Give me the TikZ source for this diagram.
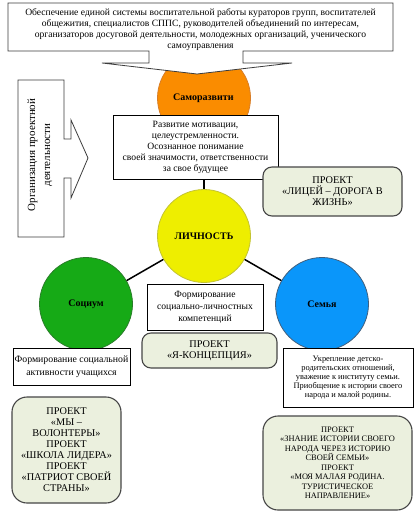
\documentclass[tikz,border=0pt]{standalone}
\usepackage{fontspec}
\setmainfont{Liberation Serif}
\definecolor{orangeF}{RGB}{250,140,0}
\definecolor{orangeD}{RGB}{215,125,40}
\definecolor{yellowF}{RGB}{238,238,0}
\definecolor{yellowD}{RGB}{195,195,50}
\definecolor{greenF}{RGB}{22,170,22}
\definecolor{greenD}{RGB}{40,125,40}
\definecolor{blueF}{RGB}{10,150,250}
\definecolor{blueD}{RGB}{65,95,125}
\definecolor{projF}{RGB}{235,240,222}
\definecolor{projD}{RGB}{70,70,70}
\definecolor{callD}{RGB}{60,60,60}
\tikzset{
  tbox/.style={draw=black, line width=0.8pt, fill=white, inner sep=1pt, align=center},
  proj/.style={draw=projD, line width=1.1pt, fill=projF, rounded corners=9pt, inner sep=1pt, align=center},
  bigproj/.style={proj, rounded corners=15pt},
  ball/.style={circle, minimum size=93pt, inner sep=0pt, line width=0.8pt, font=\fontsize{10}{12}\selectfont\bfseries},
  callout/.style={draw=callD, line width=0.8pt, fill=white},
  link/.style={draw=black, line width=1.5pt},
  fnine/.style={font=\fontsize{9.6}{11}\selectfont},
}
\begin{document}
\begin{tikzpicture}[x=1pt, y=-1pt]
\useasboundingbox[fill=white] (0,0) rectangle (418,513);

% orange circle (behind callout)
\node[ball, fill=orangeF, draw=orangeD] (orange) at (204,98) {};
\begin{scope}
\clip (150,80) rectangle (233,115);
\node[font=\fontsize{10}{12}\selectfont\bfseries, anchor=west, inner sep=0pt] (orangetxt) at (173,98) {Саморазвитие};
\end{scope}

% top callout
\draw[callout] (8,3) -- (393,3) -- (393,51) -- (243,51) -- (243,63) -- (292,63)
  -- (197,74) -- (102,63) -- (149,63) -- (149,51) -- (8,51) -- cycle;
\node[fnine, align=center, inner sep=0pt] (toptxt) at (200.5,30)
  {Обеспечение единой системы воспитательной работы кураторов групп, воспитателей\\
   общежития, специалистов СППС, руководителей объединений по интересам,\\
   организаторов досуговой деятельности, молодежных организаций, ученического\\
   самоуправления};

% left callout
\draw[callout] (18,80) -- (64,80) -- (64,139) -- (71,139) -- (71,120) -- (88,158)
  -- (71,198) -- (71,178) -- (64,178) -- (64,237) -- (18,237) -- cycle;
\node[rotate=90, font=\fontsize{11}{15}\selectfont, align=center, inner sep=0pt] (lefttxt) at (40,155)
  {Организация проектной\\деятельности};

% motivation box
\node[tbox, fnine, minimum width=165pt, minimum height=64pt] (motiv) at (195.5,147)
  {Развитие мотивации,\\целеустремленности.\\Осознанное понимание\\своей значимости, ответственности\\за свое будущее};

% circles
\node[ball, fill=yellowF, draw=yellowD] (yellow) at (204,236) {ЛИЧНОСТЬ};
\node[ball, fill=greenF, draw=greenD] (green) at (86,304) {Социум};
\node[ball, fill=blueF, draw=blueD] (blue) at (322,304) {Семья};
\draw[link] (motiv.south -| yellow.north) -- (yellow.north);
\draw[link] (yellow) -- (green);
\draw[link] (yellow) -- (blue);

% project Lyceum
\node[proj, font=\fontsize{10.3}{11}\selectfont, minimum width=139pt, minimum height=49pt] (lyceum) at (332.5,191.5)
  {ПРОЕКТ\\«ЛИЦЕЙ – ДОРОГА В\\ЖИЗНЬ»};

% social-personal competences
\node[tbox, font=\fontsize{9.6}{12}\selectfont, minimum width=116pt, minimum height=46pt] (compet) at (205,307)
  {Формирование\\социально-личностных\\компетенций};

% project Ya-concept
\node[proj, font=\fontsize{10.3}{11}\selectfont, minimum width=135pt, minimum height=35pt] (yaconc) at (209.5,350.5)
  {ПРОЕКТ\\«Я-КОНЦЕПЦИЯ»};

% social activity box
\node[tbox, font=\fontsize{9.8}{13}\selectfont, minimum width=117pt, minimum height=37pt] (social) at (71.5,366.5)
  {Формирование социальной\\активности учащихся};

% family box
\node[tbox, font=\fontsize{8.4}{9}\selectfont, minimum width=130pt, minimum height=59pt] (family) at (348,377.5)
  {Укрепление детско-\\родительских отношений,\\уважение к институту семьи.\\Приобщение к истории своего\\народа и малой родины.};

% left project
\node[bigproj, font=\fontsize{10.3}{11}\selectfont, minimum width=109pt, minimum height=106pt] (projleft) at (66.5,450)
  {ПРОЕКТ\\«МЫ –\\ВОЛОНТЕРЫ»\\ПРОЕКТ\\«ШКОЛА ЛИДЕРА»\\ПРОЕКТ\\«ПАТРИОТ СВОЕЙ\\СТРАНЫ»};

% right project
\node[bigproj, font=\fontsize{8.4}{9.5}\selectfont, minimum width=149pt, minimum height=94pt] (projright) at (337.5,463)
  {ПРОЕКТ\\«ЗНАНИЕ ИСТОРИИ СВОЕГО\\НАРОДА ЧЕРЕЗ ИСТОРИЮ\\СВОЕЙ СЕМЬИ»\\ПРОЕКТ\\«МОЯ МАЛАЯ РОДИНА.\\ТУРИСТИЧЕСКОЕ\\НАПРАВЛЕНИЕ»};
\end{tikzpicture}
\end{document}
